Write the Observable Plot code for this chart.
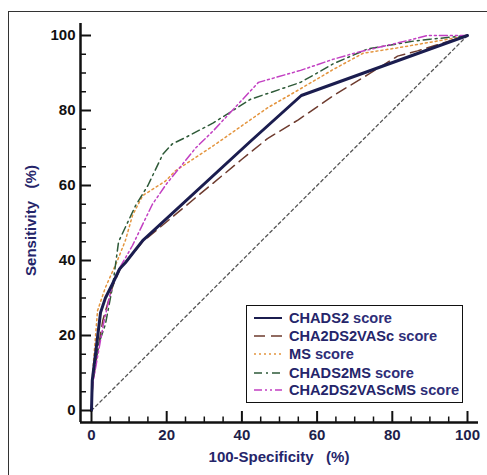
<!DOCTYPE html>
<html><head><meta charset="utf-8">
<script src="https://cdn.jsdelivr.net/npm/d3@7"></script>
<script src="https://cdn.jsdelivr.net/npm/@observablehq/plot@0.6"></script>
<style>
body{margin:0;background:#fff;font-family:"Liberation Sans",Arial,sans-serif}
#wrap{position:relative;width:487px;height:475px;overflow:hidden;background:#fff}
#wrap svg.plot{position:absolute;left:0;top:0}
#frame{position:absolute;left:8px;top:11px;width:700px;height:700px;border-left:1.5px solid #333;border-top:1.5px solid #333;box-sizing:border-box}
#legend{position:absolute;left:246px;top:305px;width:217px;height:98px;border:1.5px solid #111;background:#fff;box-sizing:border-box}
.row{position:absolute;left:0;height:18px;display:flex;align-items:center;white-space:nowrap}
.row svg{margin-left:7px;margin-right:7px}
.row b{font-size:14.6px;font-weight:bold;color:#25256a}
.row span{font-size:14.6px;font-weight:bold;color:#2e2e78;margin-left:4px}
.title{position:absolute;font-size:15px;font-weight:bold;color:#25256a;white-space:pre;text-align:center}
</style>
</head><body>
<div id="wrap"><div id="frame"></div></div>
<script>
// ---- data ----
const seriesNames = ["CHADS2", "CHA2DS2VASc", "MS", "CHADS2MS", "CHA2DS2VAScMS"];
const chads2 = [[0,0],[0.2,8],[1.5,18.6],[2.4,26.1],[3.7,30],[5.6,33.8],[7.5,37.8],[9,39.4],[13.6,45.3],[42.3,71.8],[55.8,84],[100,100]];
const cha2ds2vasc = [[0,0],[0.3,7],[1.5,15],[3,24],[5.6,33],[7.5,37.5],[13.6,45],[40,67],[46.8,72.5],[55,77.5],[64.4,84],[73.4,89.5],[81.4,94.5],[86.7,95.9],[100,100]];
const ms = [[0,0],[0.3,10],[1.6,26.6],[3.7,32.8],[6.9,40],[9,45.3],[10.9,52],[13.6,57.3],[19.7,61.2],[22.3,63.9],[32.4,70.6],[46.8,80.7],[55.6,85.8],[64.4,91],[72.3,95.3],[81.4,96.7],[94.7,99],[100,100]];
const chads2ms = [[0,0],[0.3,8],[2,18],[3.7,23],[5.6,33],[7.2,45],[11.7,54.6],[15,60],[19,68.4],[21.5,71.1],[25,72.8],[32.4,76.7],[42.3,83],[55.6,87.5],[64.4,92.5],[73.4,96.4],[85.6,98.5],[90,99],[100,100]];
const cha2ds2vascms = [[0,0],[0.3,7],[3.2,23.2],[5.6,33.8],[7.2,37.5],[10.9,44],[16.2,55],[20,60.5],[27.7,70],[32.4,74.6],[44.4,87.5],[55.6,90.7],[64.4,93.7],[70.7,95.5],[81.4,98],[89.4,100],[100,100]];
const reference = [[0,0],[100,100]];
const xMajor = [0,20,40,60,80,100];
const yMajor = [0,20,40,60,80,100];
const minorTicks = [5,10,15,25,30,35,45,50,55,65,70,75,85,90,95];
const xTitle = "100-Specificity   (%)";
const yTitle = "Sensitivity   (%)";

// ---- styles ----
const seriesData = [chads2, cha2ds2vasc, ms, chads2ms, cha2ds2vascms];
const styles = [
  {stroke:"#1b1d4f", strokeWidth:3, dash:null},
  {stroke:"#6e3b2e", strokeWidth:1.5, dash:"11,6"},
  {stroke:"#e4953f", strokeWidth:1.5, dash:"2,3"},
  {stroke:"#2e5a38", strokeWidth:1.5, dash:"8,4,2,4"},
  {stroke:"#c23fc2", strokeWidth:1.5, dash:"8,3,2,3,2,3"}
];
const drawOrder = [1,2,3,4,0];

const marks = [
  Plot.line(reference, {x: d=>d[0], y: d=>d[1], stroke:"#555", strokeWidth:1.3, strokeDasharray:"3,3"}),
  ...drawOrder.map(i => Plot.line(seriesData[i], {x: d=>d[0], y: d=>d[1], stroke: styles[i].stroke, strokeWidth: styles[i].strokeWidth, strokeDasharray: styles[i].dash, strokeLinejoin:"round"})),
  Plot.ruleX([0], {dx:-11, insetTop:-12, insetBottom:-12, stroke:"#111", strokeWidth:2.5}),
  Plot.ruleY([0], {dy:12, insetLeft:-11, insetRight:-11, stroke:"#111", strokeWidth:2.5}),
  Plot.ruleY(yMajor, {y:d=>d, x1:()=>0, x2:()=>0, insetLeft:-11, insetRight:0, stroke:"#111", strokeWidth:2}),
  Plot.ruleY(minorTicks, {y:d=>d, x1:()=>0, x2:()=>0, insetLeft:-11, insetRight:5, stroke:"#111", strokeWidth:1.5}),
  Plot.ruleX(xMajor, {x:d=>d, y1:()=>0, y2:()=>0, insetTop:12, insetBottom:-1, stroke:"#111", strokeWidth:2}),
  Plot.ruleX(minorTicks, {x:d=>d, y1:()=>0, y2:()=>0, insetTop:12, insetBottom:-6.5, stroke:"#111", strokeWidth:1.5}),
  Plot.axisY(yMajor, {anchor:"left", tickSize:0, tickPadding:16, fontSize:15, fontWeight:"bold", fill:"#111", label:null}),
  Plot.axisX(xMajor, {anchor:"bottom", tickSize:0, tickPadding:19, fontSize:15, fontWeight:"bold", fill:"#1e1e4a", label:null})
];

const chart = Plot.plot({
  width:487, height:475,
  marginLeft:91, marginRight:20, marginTop:35, marginBottom:65,
  x:{domain:[0,100]}, y:{domain:[0,100]},
  style:{fontFamily:'"Liberation Sans", Arial, sans-serif', background:"transparent"},
  marks
});
chart.classList.add("plot");
const wrap = document.getElementById("wrap");
wrap.appendChild(chart);

const xt = document.createElement("div");
xt.className = "title"; xt.textContent = xTitle;
Object.assign(xt.style, {left:"91px", width:"376px", top:"448px"});
wrap.appendChild(xt);
const yt = document.createElement("div");
yt.className = "title"; yt.textContent = yTitle;
Object.assign(yt.style, {left:"-70px", width:"200px", top:"212px", transform:"rotate(-90deg)"});
wrap.appendChild(yt);

const legend = document.createElement("div");
legend.id = "legend";
const rowTops = [3, 21, 39, 58, 75];
seriesNames.forEach((name, i) => {
  const row = document.createElement("div");
  row.className = "row"; row.style.top = rowTops[i] + "px";
  const s = styles[i];
  row.innerHTML = `<svg width="28" height="10"><line x1="0" y1="5" x2="28" y2="5" stroke="${s.stroke}" stroke-width="${Math.min(s.strokeWidth,2)}" ${s.dash ? `stroke-dasharray="${s.dash}"` : ""}/></svg><b>${name}</b><span>score</span>`;
  legend.appendChild(row);
});
wrap.appendChild(legend);
</script>
</body></html>
